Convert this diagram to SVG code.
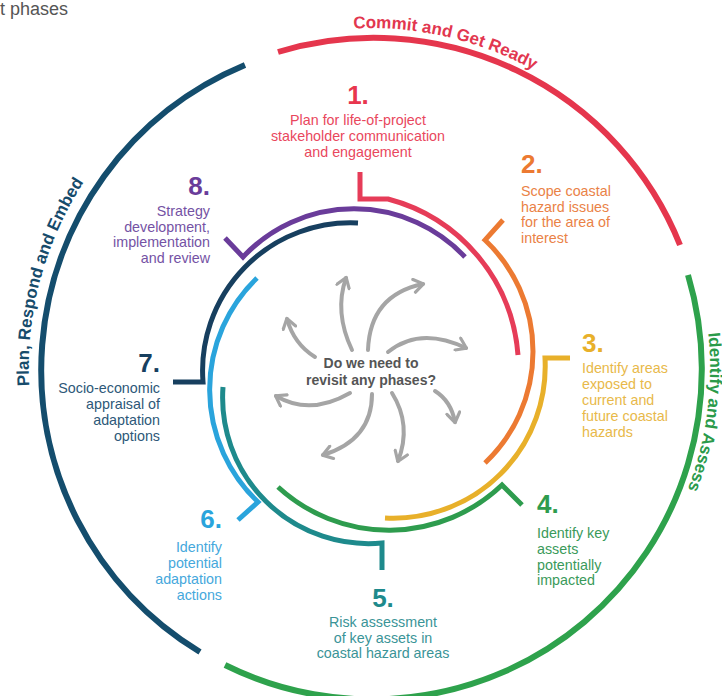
<svg xmlns="http://www.w3.org/2000/svg" width="722" height="696" viewBox="0 0 722 696">
<style>
text{font-family:"Liberation Sans",Arial,sans-serif}
.lbl{font-size:14.3px}
.num{font-size:26px;font-weight:bold}
.ring{fill:none;stroke-width:6}
.arc{fill:none;stroke-width:5;stroke-linejoin:miter}
.arr{fill:none;stroke:#a5a5a5;stroke-width:4;stroke-linecap:round;marker-end:url(#ah)}
.cur{font-size:17px;font-weight:bold}
</style>
<defs>
<marker id="ah" viewBox="0 0 16 16" refX="12" refY="8" markerWidth="16" markerHeight="16" markerUnits="userSpaceOnUse" orient="auto">
<path d="M3,1.5 L12.5,8 L3,14.5" fill="none" stroke="#a5a5a5" stroke-width="3.2" stroke-linecap="round" stroke-linejoin="round"/>
</marker>
<path id="tpTop" d="M215.6,65.1 A340,340 0 0 1 641.5,163.4"/>
<path id="tpRight" d="M656.8,185.3 A340,340 0 0 1 599.7,618.7"/>
<path id="tpLeft" d="M60.9,512.1 A340,340 0 0 1 174.4,88.7"/>
</defs>
<rect width="722" height="696" fill="#ffffff"/>
<text x="0" y="15" font-size="18" fill="#555555">t phases</text>

<g id="stage-commit">
<path class="ring" stroke="#e5364d" d="M278,52 A330,330 0 0 1 680,245"/>
<text class="cur" fill="#e2374f"><textPath href="#tpTop" startOffset="50%" text-anchor="middle">Commit and Get Ready</textPath></text>
</g>
<g id="stage-identify">
<path class="ring" stroke="#2ea24c" d="M688,275 A330,330 0 0 1 225,665"/>
<text class="cur" fill="#2a9a4a"><textPath href="#tpRight" startOffset="50%" text-anchor="middle">Identify and Assess</textPath></text>
</g>
<g id="stage-plan">
<path class="ring" stroke="#144d6d" d="M200,652 A330,330 0 0 1 245,65"/>
<text class="cur" fill="#164b6b"><textPath href="#tpLeft" startOffset="50%" text-anchor="middle">Plan, Respond and Embed</textPath></text>
</g>

<g id="phase-1">
<path class="arc" stroke="#e63c58" d="M360,172 V199 H388 A175,175 0 0 1 518,355"/>
<text class="num" x="358" y="104" text-anchor="middle" fill="#e8364e">1.</text>
<text class="lbl" text-anchor="middle" fill="#e9475d"><tspan x="358" y="125">Plan for life-of-project</tspan><tspan x="358" y="141">stakeholder communication</tspan><tspan x="358" y="157">and engagement</tspan></text>
</g>
<g id="phase-2">
<path class="arc" stroke="#ec7a32" d="M503,220 L485,240 A153.5,153.5 0 0 1 485,463"/>
<text class="num" x="521" y="173" fill="#ec7a32">2.</text>
<text class="lbl" fill="#ea8246"><tspan x="521" y="196">Scope coastal</tspan><tspan x="521" y="211.5">hazard issues</tspan><tspan x="521" y="227">for the area of</tspan><tspan x="521" y="242.5">interest</tspan></text>
</g>
<g id="phase-3">
<path class="arc" stroke="#e8b02a" d="M570,358 H545 A152,152 0 0 1 385,518"/>
<text class="num" x="582" y="352" fill="#e8b02a">3.</text>
<text class="lbl" fill="#e8b94a"><tspan x="582" y="373">Identify areas</tspan><tspan x="582" y="389">exposed to</tspan><tspan x="582" y="405">current and</tspan><tspan x="582" y="421">future coastal</tspan><tspan x="582" y="437">hazards</tspan></text>
</g>
<g id="phase-4">
<path class="arc" stroke="#2e9c4e" d="M522,505 L502,485 A164,164 0 0 1 278,487"/>
<text class="num" x="537" y="513" fill="#2e9c4e">4.</text>
<text class="lbl" fill="#3a9a5a"><tspan x="537" y="538">Identify key</tspan><tspan x="537" y="554">assets</tspan><tspan x="537" y="569.5">potentially</tspan><tspan x="537" y="585">impacted</tspan></text>
</g>
<g id="phase-5">
<path class="arc" stroke="#1e8a8c" d="M382,570 V543 A146,146 0 0 1 223,387"/>
<text class="num" x="383" y="607" text-anchor="middle" fill="#1e8a8c">5.</text>
<text class="lbl" text-anchor="middle" fill="#3a9497"><tspan x="383" y="627">Risk assessment</tspan><tspan x="383" y="642.5">of key assets in</tspan><tspan x="383" y="658">coastal hazard areas</tspan></text>
</g>
<g id="phase-6">
<path class="arc" stroke="#2aa4dc" d="M238,520 L258,502 A155,155 0 0 1 257,278"/>
<text class="num" x="222" y="528" text-anchor="end" fill="#2aa4dc">6.</text>
<text class="lbl" text-anchor="end" fill="#45a8dc"><tspan x="222" y="552">Identify</tspan><tspan x="222" y="568">potential</tspan><tspan x="222" y="584">adaptation</tspan><tspan x="222" y="600">actions</tspan></text>
</g>
<g id="phase-7">
<path class="arc" stroke="#173f5f" d="M173,382 H203 A148,148 0 0 1 358,223"/>
<text class="num" x="160" y="372" text-anchor="end" fill="#173f5f">7.</text>
<text class="lbl" text-anchor="end" fill="#2d5878"><tspan x="160" y="393">Socio-economic</tspan><tspan x="160" y="409">appraisal of</tspan><tspan x="160" y="425">adaptation</tspan><tspan x="160" y="441">options</tspan></text>
</g>
<g id="phase-8">
<path class="arc" stroke="#6a3c9a" d="M225,238 L243,257 A152,152 0 0 1 465,257"/>
<text class="num" x="210" y="195" text-anchor="end" fill="#6a3c9a">8.</text>
<text class="lbl" text-anchor="end" fill="#7452a4"><tspan x="210" y="216">Strategy</tspan><tspan x="210" y="231.5">development,</tspan><tspan x="210" y="247">implementation</tspan><tspan x="210" y="263">and review</tspan></text>
</g>

<g id="connectors">
<path class="arr" d="M352,350 Q334,312 346,278"/>
<path class="arr" d="M368,350 Q370,295 423,284"/>
<path class="arr" d="M388,352 Q420,326 466,348"/>
<path class="arr" d="M435,391 Q451,401 455,422"/>
<path class="arr" d="M392,393 Q412,425 398,461"/>
<path class="arr" d="M372,394 Q372,440 323,455"/>
<path class="arr" d="M350,393 Q310,416 276,396"/>
<path class="arr" d="M315,357 Q294,344 287,319"/>
</g>

<g id="center">
<text font-size="14" font-weight="bold" fill="#555555" text-anchor="middle"><tspan x="371" y="368">Do we need to</tspan><tspan x="371" y="385">revisit any phases?</tspan></text>
</g>
</svg>
